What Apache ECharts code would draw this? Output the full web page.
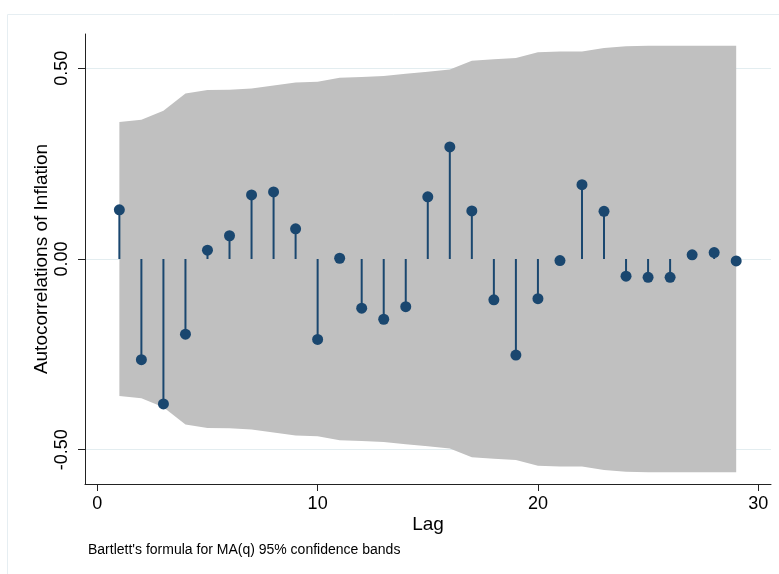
<!DOCTYPE html>
<html>
<head>
<meta charset="utf-8">
<script src="https://cdn.jsdelivr.net/npm/echarts@6/dist/echarts.min.js"></script>
<style>
html,body{margin:0;padding:0;background:#fff;}
#chart{width:779px;height:574px;}
</style>
</head>
<body>
<div id="chart"></div>
<script>
const lags = [1,2,3,4,5,6,7,8,9,10,11,12,13,14,15,16,17,18,19,20,21,22,23,24,25,26,27,28,29];
const acf = [0.129,-0.264,-0.380,-0.197,0.023,0.061,0.168,0.176,0.079,-0.211,0.002,-0.129,-0.158,-0.125,0.163,0.294,0.126,-0.107,-0.252,-0.104,-0.004,0.195,0.125,-0.045,-0.048,-0.048,0.011,0.017,-0.005];
const bandUpper = [0.359,0.365,0.389,0.434,0.443,0.444,0.447,0.455,0.463,0.465,0.475,0.477,0.480,0.486,0.491,0.497,0.520,0.524,0.527,0.542,0.544,0.544,0.553,0.558,0.559,0.559,0.559,0.559,0.559];
const yTicks = [-0.5, 0, 0.5];
const xTicks = [0, 10, 20, 30];
const yTitle = 'Autocorrelations of Inflation';
const xTitle = 'Lag';
const noteText = "Bartlett's formula for MA(q) 95% confidence bands";

const FONT = '"Liberation Sans", Arial, Helvetica, sans-serif';
const NAVY = '#1a476f';

const chart = echarts.init(document.getElementById('chart'), null, {renderer: 'canvas'});

const bandData = lags.map((l, i) => [l, bandUpper[i]]);
const acfData = lags.map((l, i) => [l, acf[i]]);

chart.setOption({
  animation: false,
  backgroundColor: '#fff',
  grid: {left: 85, top: 34, width: 686, height: 450, containLabel: false},
  xAxis: {
    type: 'value', min: -0.56, max: 30.58,
    name: xTitle, nameLocation: 'middle', nameGap: 31, nameMoveOverlap: false,
    nameTextStyle: {color: '#000', fontSize: 19, fontFamily: FONT},
    axisLine: {show: true, onZero: false, lineStyle: {color: '#222', width: 1}},
    axisTick: {show: true, length: 7, customValues: xTicks, lineStyle: {color: '#222', width: 1}},
    axisLabel: {customValues: xTicks, color: '#000', fontSize: 18, fontFamily: FONT, margin: 11,
      formatter: v => String(v)},
    splitLine: {show: false}
  },
  yAxis: {
    type: 'value', min: -0.59, max: 0.59,
    name: yTitle, nameLocation: 'middle', nameGap: 34, nameMoveOverlap: false,
    nameTextStyle: {color: '#000', fontSize: 19, fontFamily: FONT},
    axisLine: {show: true, onZero: false, lineStyle: {color: '#222', width: 1}},
    axisTick: {show: true, length: 7, customValues: yTicks, lineStyle: {color: '#222', width: 1}},
    axisLabel: {customValues: yTicks, color: '#000', fontSize: 18, fontFamily: FONT, margin: 14, rotate: 90,
      formatter: v => v.toFixed(2)},
    splitLine: {show: true, lineStyle: {color: '#e3edf0', width: 1}}
  },
  graphic: [
    {type: 'rect', shape: {x: 7.5, y: 14.5, width: 800, height: 600}, style: {fill: 'none', stroke: '#e6eef2', lineWidth: 1}, silent: true, z: -10},
    {type: 'text', left: 88, top: 543, style: {text: noteText, fill: '#000', fontSize: 14, fontFamily: FONT}}
  ],
  series: [
    {type: 'custom', data: bandData, z: 1, silent: true,
      renderItem: function (params, api) {
        if (params.dataIndex !== 0) return null;
        const pts = [];
        for (let i = 0; i < lags.length; i++) pts.push(api.coord([lags[i], bandUpper[i]]));
        for (let i = lags.length - 1; i >= 0; i--) pts.push(api.coord([lags[i], -bandUpper[i]]));
        return {type: 'polygon', shape: {points: pts}, style: {fill: '#c0c0c0', stroke: null}};
      }},
    {type: 'custom', data: acfData, z: 3,
      renderItem: function (params, api) {
        const x = api.value(0), y = api.value(1);
        const p0 = api.coord([x, 0]);
        const p1 = api.coord([x, y]);
        return {type: 'line', shape: {x1: p0[0], y1: p0[1], x2: p1[0], y2: p1[1]},
          style: {stroke: NAVY, lineWidth: 2}};
      }},
    {type: 'scatter', data: acfData, symbol: 'circle', symbolSize: 11, itemStyle: {color: NAVY, opacity: 1}, z: 4}
  ]
});
</script>
</body>
</html>
